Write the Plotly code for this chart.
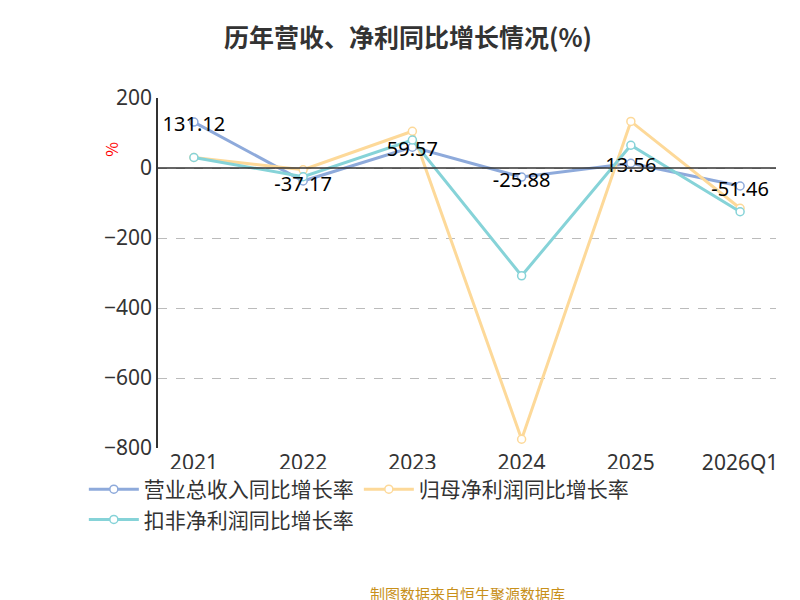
import plotly.graph_objects as go

years = ["2021", "2022", "2023", "2024", "2025", "2026Q1"]
revenue = [131.12, -37.17, 59.57, -25.88, 13.56, -51.46]
net_profit = [30, -5, 105, -775, 133, -115]
deducted = [30, -25, 80, -308, 65, -125]
yticks = [200, 0, -200, -400, -600, -800]

fig = go.Figure()
specs = [("营业总收入同比增长率", revenue, "#8eaadb"),
         ("归母净利润同比增长率", net_profit, "#fdd999"),
         ("扣非净利润同比增长率", deducted, "#86d3d8")]
for name, vals, c in specs:
    fig.add_trace(go.Scatter(x=years, y=vals, name=name, mode="lines+markers",
                             line=dict(color=c, width=3),
                             marker=dict(size=8, color="white", line=dict(color=c, width=1.5))))
fig.add_trace(go.Scatter(x=years, y=[v - 15 if v < 0 else v - 10 for v in revenue], mode="text",
                         text=[f"{v:.2f}" for v in revenue],
                         textposition="middle center", textfont=dict(size=20, color="black", family="Noto Sans"),
                         showlegend=False, hoverinfo="skip"))
fig.update_layout(
    width=800, height=600, plot_bgcolor="white", paper_bgcolor="white",
    font=dict(family="Noto Sans CJK SC", color="#333"),
    title=dict(text="<b>历年营收、净利同比增长情况(%)</b>", x=0.5, xanchor="center", y=0.965, font=dict(size=25)),
    margin=dict(l=150, r=32, t=90, b=160, autoexpand=False),
    xaxis=dict(tickfont=dict(size=21, family="Noto Sans"), showline=False, ticks="", type="category"),
    yaxis=dict(range=[-800, 200], tickvals=yticks, tickfont=dict(size=21, family="Noto Sans"),
               gridcolor="#bbb", griddash="dash", zeroline=False,
               showline=True, linecolor="#333", linewidth=1.5),
    legend=dict(orientation="h", x=-0.12, y=-0.06, font=dict(size=21), itemwidth=50, tracegroupgap=0),
    shapes=[dict(type="line", xref="paper", x0=0, x1=1, yref="y", y0=0, y1=0,
                 line=dict(color="#333", width=1.5))],
    annotations=[dict(text="制图数据来自恒生聚源数据库", xref="paper", yref="paper", x=0.5, y=-0.45,
                      showarrow=False, font=dict(size=15, color="#c8901a")),
                 dict(text="%", xref="paper", yref="paper", x=-0.1, y=0.88, textangle=-90,
                      showarrow=False, font=dict(size=16, color="red"))],
)
fig.write_html("out.html")
